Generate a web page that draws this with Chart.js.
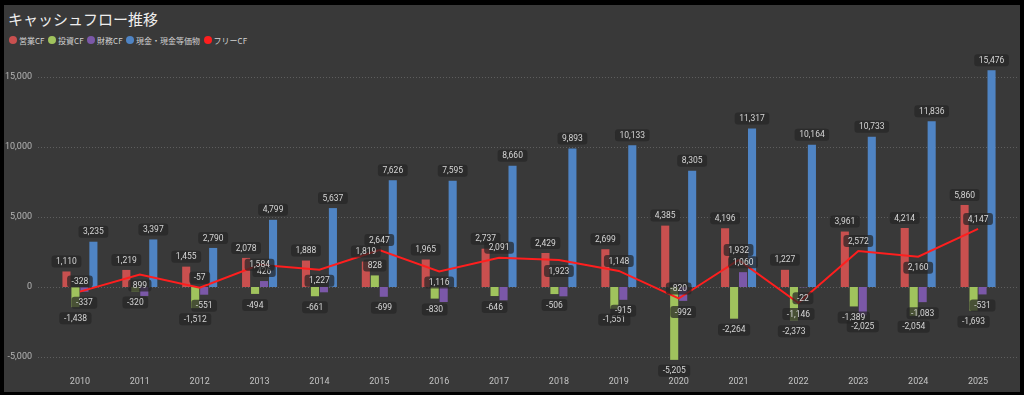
<!DOCTYPE html>
<html><head><meta charset="utf-8">
<script src="https://cdn.jsdelivr.net/npm/chart.js@4/dist/chart.umd.min.js"></script>
<style>
html,body{margin:0;padding:0;background:#000;width:1024px;height:395px;overflow:hidden;}
#panel{position:absolute;left:4px;top:5px;width:1016px;height:387px;background:#393939;}
#title{position:absolute;left:4px;top:6px;font-size:15px;font-family:"Noto Sans CJK JP","Noto Sans",sans-serif;color:#eeeeee;line-height:15px;white-space:nowrap;}
#legend{position:absolute;left:5px;top:29px;height:12px;display:flex;align-items:center;font-size:8px;font-family:"Noto Sans CJK JP","Noto Sans",sans-serif;color:#d2d2d2;white-space:nowrap;}
#legend .it{display:flex;align-items:center;margin-right:3.5px;}
#legend .dot{width:8px;height:8px;border-radius:50%;margin-right:2px;}
#wrap{position:absolute;left:0;top:45px;width:1016px;height:342px;}
canvas{display:block;}
</style></head>
<body>
<div id="panel">
  <div id="title">キャッシュフロー推移</div>
  <div id="legend"></div>
  <div id="wrap"><canvas id="c" width="1016" height="342"></canvas></div>
</div>
<script>
// ---- data ----
const years = ['2010','2011','2012','2013','2014','2015','2016','2017','2018','2019','2020','2021','2022','2023','2024','2025'];
const seriesNames = ['営業CF','投資CF','財務CF','現金・現金等価物','フリーCF'];
const operatingCF = [1110,1219,1455,2078,1888,1819,1965,2737,2429,2699,4385,4196,1227,3961,4214,5860];
const investingCF = [-1438,-320,-1512,-494,-661,828,-830,-646,-506,-1551,-5205,-2264,-2373,-1389,-2054,-1693];
const financingCF = [-337,-640,-551,426,-380,-699,-1070,-950,-665,-915,-992,1060,-22,-2025,-1083,-531];
const cashEquiv = [3235,3397,2790,4799,5637,7626,7595,8660,9893,10133,8305,11317,10164,10733,11836,15476];
const freeCF = [-328,899,-57,1584,1227,2647,1116,2091,1923,1148,-820,1932,-1146,2572,2160,4147];
const yTickValues = [-5000,0,5000,10000,15000];

// ---- presentation options ----
const colors = ['#c9504f','#a0c35d','#7b58a8','#4f84c4','#ff1e1e'];
// data labels that the reference leaves out (overlaps)
const hiddenLabels = {2:[1,4,6,7,8]};
// placement of free CF labels relative to the line point
const fcfLabelPlace = ['above','below','above','center','below','above','below','above','below','above','above','above','below','above','below','above'];

const fmt = v => v.toLocaleString('en-US');

// legend
const lg = document.getElementById('legend');
seriesNames.forEach((n,i)=>{
  const it=document.createElement('div');it.className='it';
  const d=document.createElement('div');d.className='dot';d.style.background=colors[i];
  const t=document.createElement('span');t.textContent=n;
  it.appendChild(d);it.appendChild(t);lg.appendChild(it);
});

function drawLabel(ctx,text,cx,cy){
  ctx.font='8.5px Roboto, "Noto Sans", sans-serif';
  const w=ctx.measureText(text).width+9, h=12;
  ctx.fillStyle='rgba(38,38,38,0.72)';
  ctx.beginPath();
  ctx.roundRect(cx-w/2,cy-h/2,w,h,3);
  ctx.fill();
  ctx.fillStyle='#d6d6d6';
  ctx.textAlign='center';ctx.textBaseline='middle';
  ctx.fillText(text,cx,cy+0.5);
}

const gridPlugin={
  id:'dotGrid',
  beforeDatasetsDraw(chart){
    const ctx=chart.ctx, ys=chart.scales.y;
    ctx.save();
    ctx.strokeStyle='#5e5e5e';ctx.lineWidth=1;ctx.setLineDash([1,2]);
    ys.ticks.forEach(t=>{
      const y=Math.round(ys.getPixelForValue(t.value))+0.5;
      ctx.beginPath();ctx.moveTo(34,y);ctx.lineTo(1014,y);ctx.stroke();
    });
    ctx.restore();
  }
};

const labelPlugin={
  id:'dataLabels',
  afterDraw(chart){
    const ctx=chart.ctx;
    ctx.save();
    chart.data.datasets.forEach((ds,di)=>{
      const meta=chart.getDatasetMeta(di);
      meta.data.forEach((el,i)=>{
        const v=ds.data[i];
        if(ds.type==='line'){
          const p=fcfLabelPlace[i];
          const cy = p==='above'? el.y-10 : p==='below'? el.y+11 : el.y;
          drawLabel(ctx,fmt(v),el.x,cy);
        } else {
          if(hiddenLabels[di] && hiddenLabels[di].includes(i)) return;
          const cy = v>=0 ? el.y-10 : el.y+11;
          drawLabel(ctx,fmt(v),el.x,cy);
        }
      });
    });
    ctx.restore();
  }
};

const barData=[operatingCF,investingCF,financingCF,cashEquiv];
const datasets=barData.map((d,i)=>({
  type:'bar',label:seriesNames[i],data:d,backgroundColor:colors[i],
  categoryPercentage:0.6,barPercentage:0.9,order:1
}));
datasets.push({type:'line',label:seriesNames[4],data:freeCF,borderColor:colors[4],borderWidth:2,
  pointRadius:0,tension:0,fill:false,order:0});

new Chart(document.getElementById('c'),{
  data:{labels:years,datasets},
  options:{
    responsive:false,animation:false,devicePixelRatio:1,
    layout:{padding:{top:6,right:12,bottom:4,left:0}},
    plugins:{legend:{display:false},tooltip:{enabled:false}},
    scales:{
      x:{grid:{display:false,drawTicks:false},border:{display:false},
         ticks:{color:'#c4c4c4',font:{size:9,family:'Roboto'},padding:5,maxRotation:0},
         afterFit(s){s.height=17;s.paddingLeft=0;s.paddingRight=0;}},
      y:{min:-6000,max:16500,grid:{display:false,drawTicks:false},border:{display:false},
         afterBuildTicks(s){s.ticks=yTickValues.map(v=>({value:v}));},
         ticks:{color:'#b4b4b4',font:{size:9,family:'Roboto'},padding:18,callback:v=>fmt(v)},
         afterFit(s){s.width=46;s.paddingTop=0;s.paddingBottom=0;}}
    }
  },
  plugins:[gridPlugin,labelPlugin]
});
</script>
</body></html>
